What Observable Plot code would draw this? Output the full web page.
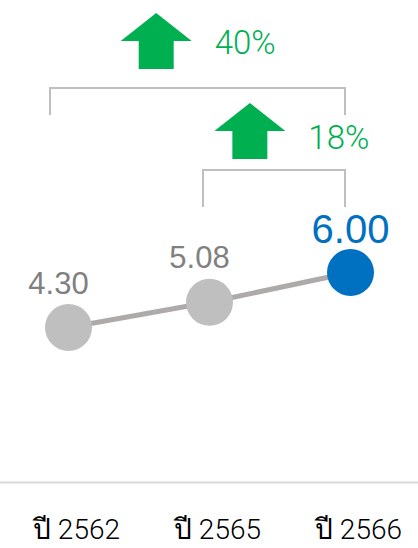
<!DOCTYPE html>
<html><head><meta charset="utf-8">
<script src="https://cdn.jsdelivr.net/npm/d3@7"></script>
<script src="https://cdn.jsdelivr.net/npm/@observablehq/plot@0.6"></script>
<style>
html,body{margin:0;padding:0;background:#fff;}
</style></head><body><div id="chart"></div>
<script>
// ---- data ----
const years = ["ปี 2562", "ปี 2565", "ปี 2566"];
const values = [4.30, 5.08, 6.00];
const highlightYear = "ปี 2566";
const compareFrom = ["ปี 2562", "ปี 2565"];
const compareTo = ["ปี 2566", "ปี 2566"];
const comparePct = [40, 18];

const data = years.map((year, i) => ({year, value: values[i]}));
const comparisons = compareFrom.map((from, i) => ({from, to: compareTo[i], pct: comparePct[i]}));

// ---- layout for the comparison brackets (pixels), outer first ----
const bracketLayout = [
  {top: 88, drop: 27, leftPad: 18, rightPad: 5, arrowFrac: 0.36, arrowBottom: 69, textBase: 54},
  {top: 170, drop: 37, leftPad: 6, rightPad: 5, arrowFrac: 0.33, arrowBottom: 159, textBase: 149}
];

const GREEN = "#00b050", BLUE = "#0070c0", GRAY_DOT = "#bfbfbf", LINE = "#aeaaaa";
const FONT = "'Liberation Sans', Arial, Helvetica, sans-serif";
const LIGHT = "Roboto, 'Liberation Sans', sans-serif";

function annotations(index, scales) {
  const g = d3.create("svg:g");
  comparisons.forEach((c, i) => {
    const L = bracketLayout[i];
    const x1 = scales.x(c.from) - L.leftPad, x2 = scales.x(c.to) - L.rightPad;
    g.append("path")
      .attr("d", `M${x1},${L.top + L.drop}V${L.top}H${x2}V${L.top + L.drop}`)
      .attr("fill", "none").attr("stroke", GRAY_DOT).attr("stroke-width", 2);
    const cx = x1 + (x2 - x1) * L.arrowFrac, b = L.arrowBottom;
    g.append("path")
      .attr("d", `M${cx - 17.5},${b}V${b - 28}H${cx - 35.5}L${cx},${b - 56}L${cx + 35.5},${b - 28}H${cx + 17.5}V${b}Z`)
      .attr("fill", GREEN);
    g.append("text")
      .attr("x", cx + 35.5 + 23).attr("y", L.textBase)
      .attr("text-anchor", "start")
      .attr("fill", GREEN)
      .attr("font-family", LIGHT)
      .attr("font-weight", 300)
      .attr("font-size", 33)
      .text(`${c.pct}%`);
  });
  return g.node();
}

const chart = Plot.plot({
  width: 418,
  height: 548,
  marginLeft: 0,
  marginRight: 0,
  marginTop: 0,
  marginBottom: 66,
  style: {fontFamily: FONT, background: "#fff"},
  x: {type: "point", domain: years, range: [68, 350], padding: 0, axis: null},
  y: {domain: [4.3, 6.0], range: [327, 272], axis: null},
  color: {type: "identity"},
  marks: [
    Plot.frame({anchor: "bottom", stroke: "#d9d9d9", strokeWidth: 2}),
    Plot.axisX({tickSize: 0, tickPadding: 37, fontSize: 28, fontFamily: LIGHT, fontWeight: 300, dx: 8, fill: "#000", label: null}),
    Plot.line(data, {x: "year", y: "value", stroke: LINE, strokeWidth: 5}),
    Plot.dot(data, {x: "year", y: "value", r: 23.5, fill: d => d.year === highlightYear ? BLUE : GRAY_DOT}),
    Plot.text(data.filter(d => d.year !== highlightYear), {
      x: "year", y: "value", text: d => d.value.toFixed(2),
      dx: -10, dy: -34, lineAnchor: "bottom", fontSize: 31, fill: "#808080"
    }),
    Plot.text(data.filter(d => d.year === highlightYear), {
      x: "year", y: "value", text: d => d.value.toFixed(2),
      dx: 0, dy: -30, lineAnchor: "bottom", fontSize: 40, fill: BLUE
    }),
    annotations
  ]
});
document.getElementById("chart").appendChild(chart);
</script>
</body></html>
